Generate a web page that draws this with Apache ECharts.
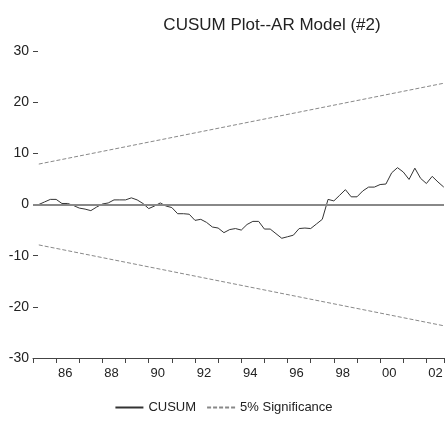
<!DOCTYPE html>
<html>
<head>
<meta charset="utf-8">
<script src="https://cdn.jsdelivr.net/npm/echarts@6/dist/echarts.min.js"></script>
<style>html,body{margin:0;padding:0;background:#fff}#c{width:447px;height:422px}</style>
</head>
<body>
<div id="c"></div>
<script>
// Quarterly, 1985Q2 .. 2002Q4 (plotted at 1985.25 + 0.25*k)
const startTime = 1985.25;
const step = 0.25;
const cusumValues = [
  0.0, 0.5, 1.0, 1.0, 0.2, 0.2, -0.2, -0.7, -0.9, -1.2,
  -0.5, 0.1, 0.3, 0.9, 0.9, 0.9, 1.3, 0.9, 0.2, -0.8,
  -0.3, 0.3, -0.3, -0.6, -1.8, -1.8, -1.9, -3.1, -2.9, -3.5,
  -4.4, -4.6, -5.5, -4.9, -4.7, -5.0, -3.9, -3.3, -3.3, -4.8,
  -4.8, -5.7, -6.6, -6.3, -6.0, -4.7, -4.6, -4.7, -3.8, -2.9,
  1.0, 0.7, 1.8, 2.9, 1.5, 1.5, 2.65, 3.4, 3.4, 3.9,
  4.0, 6.2, 7.2, 6.35, 4.9, 7.1, 5.1, 4.1, 5.5, 4.4,
  3.4
];
const boundTimes = [1985.25, 2002.75];
const upperBound = [7.9, 23.7];
const lowerBound = [-7.9, -23.7];
const yTicks = [-30, -20, -10, 0, 10, 20, 30];

const cusumData = cusumValues.map((v, k) => [startTime + step * k, v]);
const upperData = boundTimes.map((t, i) => [t, upperBound[i]]);
const lowerData = boundTimes.map((t, i) => [t, lowerBound[i]]);

const FONT = 'Liberation Sans, Arial, sans-serif';
const chart = echarts.init(document.getElementById('c'), null, {renderer: 'canvas'});
chart.setOption({
  animation: false,
  title: {
    text: 'CUSUM Plot--AR Model (#2)',
    left: 267, top: 12, textAlign: 'center',
    textStyle: {fontFamily: FONT, fontSize: 17, fontWeight: 'normal', color: '#222'}
  },
  legend: {
    bottom: 3, left: 'center',
    itemWidth: 28, itemHeight: 10, itemGap: 10,
    itemStyle: {opacity: 0},
    textStyle: {fontFamily: FONT, fontSize: 13, color: '#222'},
    data: ['CUSUM', '5% Significance']
  },
  grid: {left: 33, right: 0, top: 51, bottom: 64},
  xAxis: {
    type: 'value', min: 1985, max: 2002.76, interval: 1,
    axisLine: {show: true, onZero: false, lineStyle: {color: '#444', width: 1}},
    axisTick: {show: true, length: 5, lineStyle: {color: '#444'}},
    splitLine: {show: false},
    axisLabel: {
      margin: 9, padding: [0, 0, 0, 18],
      fontFamily: FONT, fontSize: 13, color: '#222',
      showMinLabel: true, showMaxLabel: true,
      formatter: v => {
        if (Math.abs(v - Math.round(v)) > 1e-6) return '';
        const y = Math.round(v);
        if (y % 2 !== 0) return '';
        return String(y % 100).padStart(2, '0');
      }
    }
  },
  yAxis: {
    type: 'value', min: yTicks[0], max: yTicks[yTicks.length - 1], interval: 10,
    axisLine: {show: false, onZero: false},
    axisTick: {show: true, inside: true, length: 5, lineStyle: {color: '#444'}},
    splitLine: {show: false},
    axisLabel: {margin: 4, fontFamily: FONT, fontSize: 14, color: '#222'}
  },
  series: [
    {
      name: 'CUSUM', type: 'line', data: cusumData, symbol: 'none',
      lineStyle: {color: '#333', width: 1}, itemStyle: {color: '#333'},
      markLine: {
        silent: true, symbol: 'none', label: {show: false},
        lineStyle: {color: '#888', width: 2, type: 'solid'},
        data: [{yAxis: 0}]
      },
      z: 3
    },
    {
      name: '5% Significance', type: 'line', data: upperData, symbol: 'none',
      lineStyle: {color: '#888', width: 1, type: [4, 2]}, itemStyle: {color: '#888'}
    },
    {
      name: '5% Significance', type: 'line', data: lowerData, symbol: 'none',
      lineStyle: {color: '#888', width: 1, type: [4, 2]}, itemStyle: {color: '#888'}
    }
  ]
});
</script>
</body>
</html>
